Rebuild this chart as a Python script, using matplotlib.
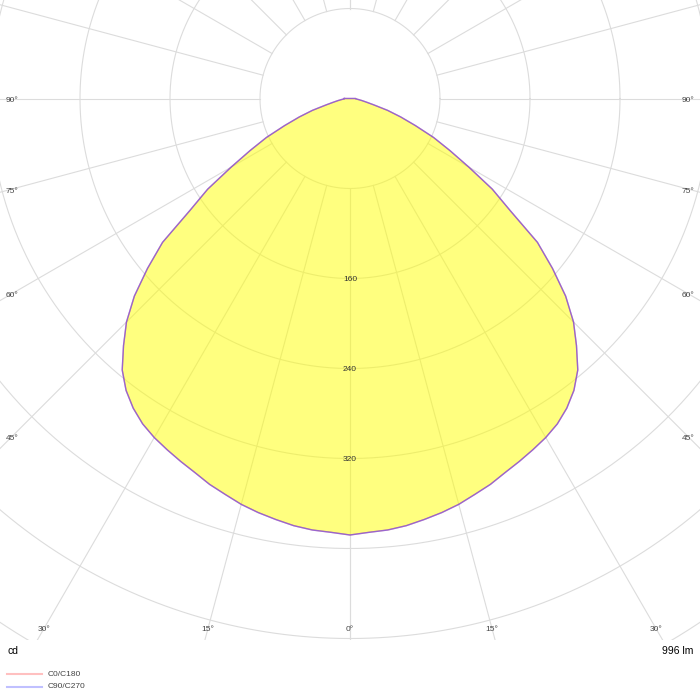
import numpy as np
import matplotlib.pyplot as plt

# luminous intensity (cd) vs gamma angle, symmetric luminaire
angles = np.arange(0, 92.5, 2.5)
c0_c180 = [388, 386, 385, 383, 380, 377, 373.5, 369, 365, 360, 356, 352, 348,
           343, 336, 327, 315, 298, 281, 260, 235, 210, 174, 150, 122, 100,
           82, 63, 48, 35, 22, 15, 11, 8, 6, 5, 5]
c90_c270 = list(c0_c180)
rings = np.arange(80, 1040, 80)
ring_labels = [160, 240, 320]
spokes = np.arange(0, 181, 15)
angle_labels = [0, 15, 30, 45, 60, 75, 90]
flux_text = "996 lm"

s = 80 / 90.0          # cd per pixel
cx, cy = 350, 98.5     # centre of diagram in pixels (from top-left)
box_h = 640

fig = plt.figure(figsize=(7, 7), dpi=100)
ax = fig.add_axes([0, (700 - box_h) / 700, 1, box_h / 700])
ax.set_xlim(-cx * s, (700 - cx) * s)
ax.set_ylim(-(box_h - cy) * s, cy * s)
ax.axis('off')

grid = '#dcdcdc'
t = np.linspace(0, 2 * np.pi, 721)
for r in rings:
    ax.plot(r * np.cos(t), r * np.sin(t), color=grid, lw=0.8, zorder=1)
for a in spokes:
    for sg in (-1, 1):
        th = np.radians(a) * sg
        ax.plot([rings[0] * np.sin(th), 2000 * np.sin(th)],
                [-rings[0] * np.cos(th), -2000 * np.cos(th)],
                color=grid, lw=0.8, zorder=1)

def outline(vals):
    # C180 half on the left, C0 half on the right, closed across the top
    th = np.radians(np.concatenate([-angles[::-1], angles[1:], [-90]]))
    v = np.concatenate([np.array(vals)[::-1], np.array(vals)[1:], [vals[-1]]])
    return v * np.sin(th), -v * np.cos(th)

x0, y0 = outline(c0_c180)
x9, y9 = outline(c90_c270)
ax.fill(x0, y0, color='#ffff00', alpha=0.5, lw=0, zorder=2)
ax.plot(x0, y0, color='#e05050', lw=1.0, alpha=0.55, zorder=3)
ax.plot(x9, y9, color='#6040ff', lw=1.0, alpha=0.6, zorder=3)

for r in ring_labels:
    ax.text(0, -r - 1 * s, str(r), fontsize=6, color='#333333', ha='center',
            va='center', zorder=4, family='Liberation Sans')

# angle labels where the spokes meet the edge of the frame
side = (cx - 12) * s
bottom = (box_h - 11 - cy) * s
for a in angle_labels:
    th = np.radians(a)
    if a > 0 and np.tan(th) > side / bottom:
        px, py = side, side / np.tan(th) + 2 * s
    else:
        px, py = bottom * np.tan(th), bottom
    for sg in ((-1, 1) if a else (1,)):
        ax.text(sg * px, -py, f"{a}°", fontsize=6, color='#444444',
                ha='center', va='center', zorder=4, family='Liberation Sans')

fig.text(7 / 700, 1 - 651 / 700, "cd", fontsize=7.5, ha='left', va='center',
         family='Liberation Sans')
fig.text(693 / 700, 1 - 651 / 700, flux_text, fontsize=7.5, ha='right',
         va='center', family='Liberation Sans')

legend = [("C0/C180", '#ffc0c0'), ("C90/C270", '#c0c0ff')]
for i, (name, col) in enumerate(legend):
    yy = 1 - (674 + 13 * i) / 700
    fig.add_artist(plt.Line2D([7 / 700, 42 / 700], [yy, yy], color=col, lw=1.5))
    fig.text(48 / 700, yy, name, fontsize=6, color='#444444', ha='left',
             va='center', family='Liberation Sans')

fig.savefig('out.png', dpi=100, facecolor='white')
